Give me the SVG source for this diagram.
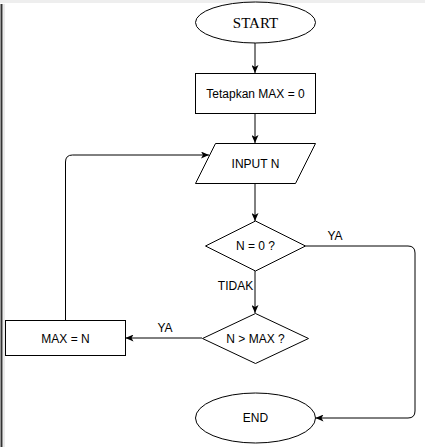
<svg xmlns="http://www.w3.org/2000/svg" width="425" height="447" viewBox="0 0 425 447">
<style>
.s{fill:#fff;stroke:#000;stroke-width:1}
.t{font-family:"Liberation Sans",Arial,sans-serif;font-size:12px;fill:#000;text-anchor:middle}
.ts{font-family:"Liberation Serif","Times New Roman",serif;font-size:15px;fill:#000;text-anchor:middle}
.c{fill:none;stroke:#000;stroke-width:1}
</style>
<defs>
<marker id="a" viewBox="0 0 8 7" refX="8" refY="3.5" markerWidth="8" markerHeight="7" markerUnits="userSpaceOnUse" orient="auto">
<path d="M0,0 L8,3.5 L0,7 L2,3.5 z" fill="#000"/>
</marker>
</defs>
<rect width="425" height="447" fill="#fff"/>
<rect x="0" y="0" width="425" height="3" fill="#eeeeee"/>
<line x1="1.5" y1="4" x2="1.5" y2="447" stroke="#333" stroke-width="2"/>
<line x1="4" y1="4" x2="4" y2="447" stroke="#e4e4e4" stroke-width="1.5"/>
<g id="connectors">
<line class="c" x1="255" y1="43" x2="255" y2="73" marker-end="url(#a)"/>
<line class="c" x1="255" y1="113" x2="255" y2="143" marker-end="url(#a)"/>
<line class="c" x1="255" y1="183" x2="255" y2="221" marker-end="url(#a)"/>
<line class="c" x1="255" y1="271" x2="255" y2="313" marker-end="url(#a)"/>
<text class="t" x="235.5" y="290">TIDAK</text>
<line class="c" x1="202" y1="338" x2="125.5" y2="338" marker-end="url(#a)"/>
<text class="t" x="165" y="332">YA</text>
<path class="c" d="M65.5,321 L65.5,162 Q65.5,155 72.5,155 L209,155" marker-end="url(#a)"/>
<path class="c" d="M305.5,246 L408,246 Q415,246 415,253 L415,411 Q415,418 408,418 L315.5,418" marker-end="url(#a)"/>
<text class="t" x="335" y="240">YA</text>
</g>
<g id="start">
<ellipse class="s" cx="255.5" cy="22.5" rx="60" ry="20.5"/>
<text class="ts" x="255.5" y="27.5">START</text>
</g>
<g id="init">
<rect class="s" x="195.5" y="73.5" width="120" height="40"/>
<text class="t" x="255.5" y="97.5">Tetapkan MAX = 0</text>
</g>
<g id="input">
<polygon class="s" points="215.5,143.5 315.5,143.5 295.5,183.5 195.5,183.5"/>
<text class="t" x="255.5" y="167.5">INPUT N</text>
</g>
<g id="cond1">
<polygon class="s" points="255.5,221 305.5,246 255.5,271 205.5,246"/>
<text class="t" x="255.5" y="250">N = 0 ?</text>
</g>
<g id="cond2">
<polygon class="s" points="255.5,313.5 308.5,338.5 255.5,363.5 202.5,338.5"/>
<text class="t" x="255.5" y="342.5">N &gt; MAX ?</text>
</g>
<g id="assign">
<rect class="s" x="5.5" y="320.5" width="120" height="35"/>
<text class="t" x="65.5" y="342.5">MAX = N</text>
</g>
<g id="end">
<ellipse class="s" cx="255.5" cy="418" rx="60" ry="25"/>
<text class="t" x="255.5" y="422">END</text>
</g>
</svg>
